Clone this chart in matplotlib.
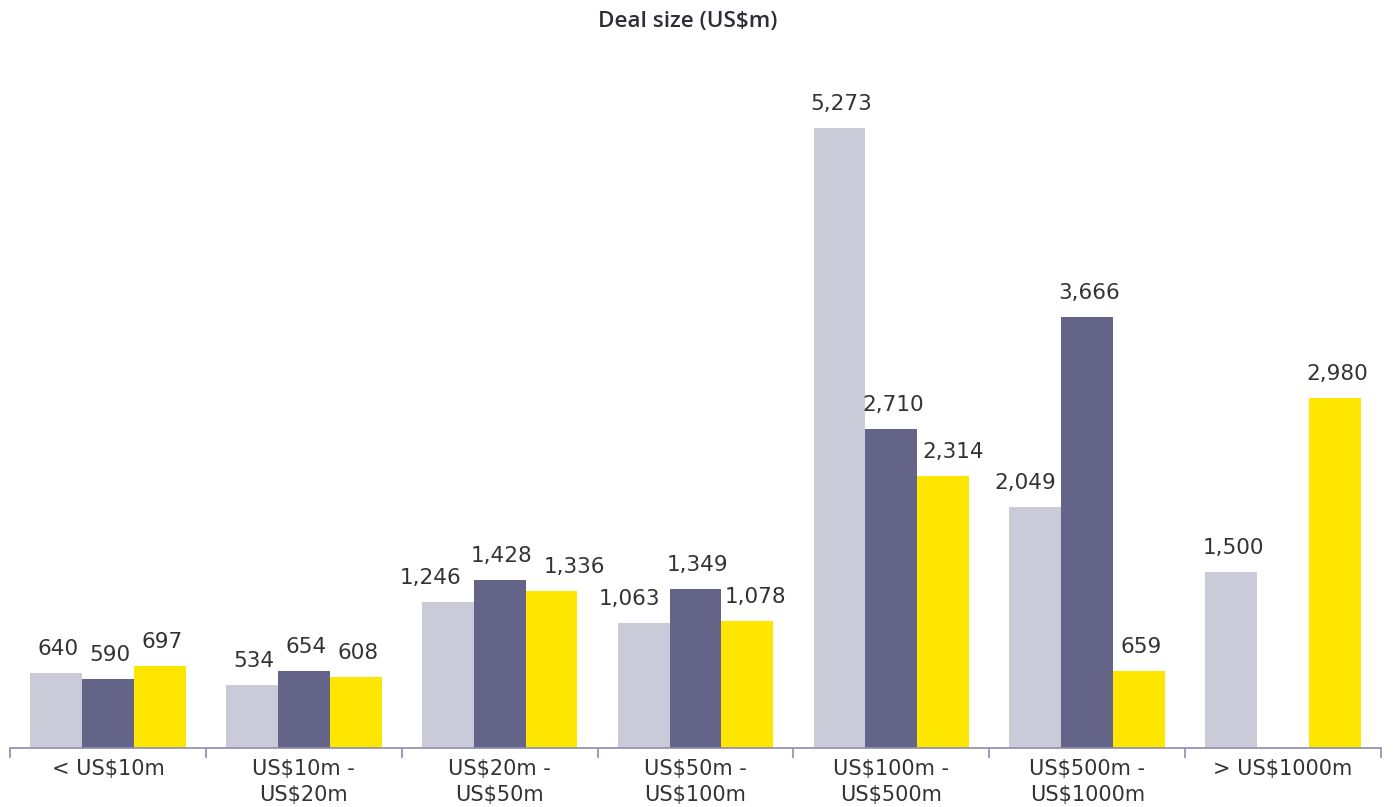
import matplotlib.pyplot as plt
import numpy as np

categories = ["< US$10m", "US$10m -\nUS$20m", "US$20m -\nUS$50m", "US$50m -\nUS$100m",
              "US$100m -\nUS$500m", "US$500m -\nUS$1000m", "> US$1000m"]
series_a = [640, 534, 1246, 1063, 5273, 2049, 1500]
series_b = [590, 654, 1428, 1349, 2710, 3666, None]
series_c = [697, 608, 1336, 1078, 2314, 659, 2980]

colors = ["#CBCAD9", "#646489", "#FFE600"]
text_color = "#333333"
axis_color = "#8C8CB0"

# horizontal shifts (px) for labels that would otherwise collide
label_shift = {(0, 2): -19, (2, 2): 21, (0, 3): -16, (2, 3): 6,
               (2, 4): 8, (0, 5): -12}

fig = plt.figure(figsize=(13.94, 8.07), dpi=100)
ax = fig.add_axes([10 / 1394, 59 / 807, 1371 / 1394, 690 / 807])

x = np.arange(len(categories))
w = 0.265
for i, (vals, col) in enumerate(zip([series_a, series_b, series_c], colors)):
    for xi, v in zip(x, vals):
        if v is None:
            continue
        pos = xi + (i - 1) * w
        ax.bar(pos, v, width=w, color=col, linewidth=0)
        dx = 2 + label_shift.get((i, xi), 0)
        ax.annotate(f"{v:,}", (pos, v), xytext=(dx, 14), textcoords="offset pixels",
                    ha="center", va="bottom", fontsize=15.5, color=text_color)

ax.set_xlim(-0.5, len(categories) - 0.5)
ax.set_ylim(0, 5870)
ax.set_yticks([])
for s in ["top", "right", "left"]:
    ax.spines[s].set_visible(False)
ax.spines["bottom"].set_color(axis_color)
ax.spines["bottom"].set_linewidth(1.2)

# category labels centred, tick marks on the boundaries
ax.set_xticks(x)
ax.set_xticklabels(categories, fontsize=15, color=text_color, linespacing=1.35)
ax.tick_params(axis="x", which="major", length=0, pad=8)
ax.set_xticks(np.arange(-0.5, len(categories)), minor=True)
ax.tick_params(axis="x", which="minor", length=7, width=1.2, color=axis_color)

fig.text(688 / 1394, 1 - 21 / 807, "Deal size (US$m)", ha="center", va="center",
         fontsize=16.2, fontweight="semibold", family="Open Sans", color="#2E2E38")

fig.savefig("out.png", dpi=100)
